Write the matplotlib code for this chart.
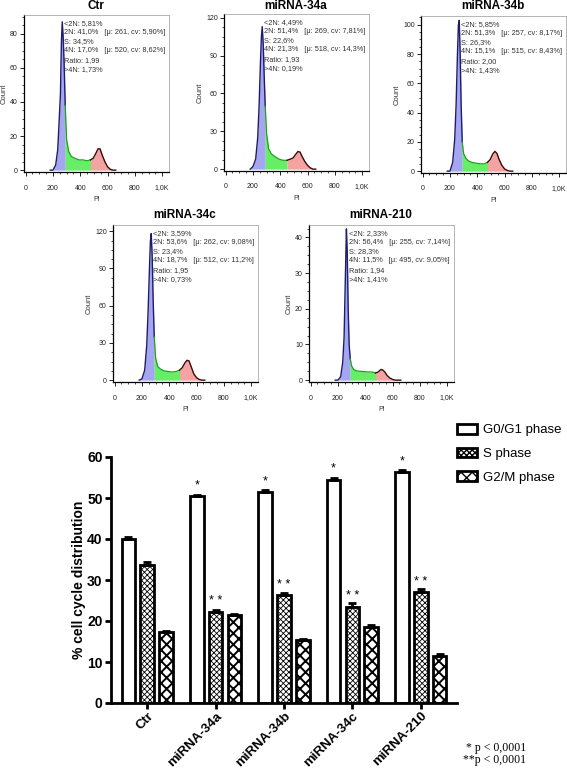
import numpy as np
import matplotlib.pyplot as plt
import matplotlib.transforms as mtransforms

plt.rcParams['font.family'] = ['Liberation Sans', 'DejaVu Sans']

# --- PI histograms (counts)
pi = [180, 200, 220, 235, 245, 255, 262, 268, 275, 282, 290, 300, 315, 335, 360, 390,
      420, 450, 475, 495, 515, 530, 545, 560, 580, 600, 620, 640, 660]
count_ctr = [0, 0, 3, 12, 28, 45, 75, 87, 78, 62, 38, 18, 11, 8, 7, 6,
             6, 5.5, 6, 7, 10, 12.5, 12.5, 9, 5, 2, 0.5, 0, 0]
count_34a = [0, 2, 8, 25, 50, 85, 105, 113, 100, 75, 50, 28, 16, 12, 10, 8,
             7, 7, 8, 9, 12, 14, 13.5, 10, 6, 3, 1, 0, 0]
count_34b = [0, 0, 6, 22, 45, 80, 100, 103, 80, 45, 20, 12, 9, 7, 6, 5.5,
             5, 5, 6, 8, 12, 13.5, 12, 8, 4, 1.5, 0.5, 0, 0]
count_34c = [0, 1, 8, 28, 55, 90, 112, 118, 100, 65, 35, 18, 11, 9, 7.5, 7,
             6.5, 7, 8, 10, 14, 16, 15.5, 11, 5, 2, 0.5, 0, 0]
count_210 = [0, 0, 1, 5, 12, 30, 42.4, 36, 20, 10, 6, 4, 3, 2.6, 2.5, 2.4,
             2.3, 2.3, 2.0, 2.3, 3.0, 2.8, 2.2, 1.3, 0.6, 0.2, 0, 0, 0]
hist_counts = [count_ctr, count_34a, count_34b, count_34c, count_210]

samples = ['Ctr', 'miRNA-34a', 'miRNA-34b', 'miRNA-34c', 'miRNA-210']
g1_end = [290, 290, 290, 290, 290]
g2_start = [475, 450, 475, 475, 475]
y_top = [91, 123, 106, 125, 43.5]
y_step = [20, 30, 20, 30, 10]
stats = [
    "<2N: 5,81%\n2N: 41,0%   [μ: 261, cv: 5,90%]\nS: 34,5%\n4N: 17,0%   [μ: 520, cv: 8,62%]\nRatio: 1,99\n>4N: 1,73%",
    "<2N: 4,49%\n2N: 51,4%   [μ: 269, cv: 7,81%]\nS: 22,6%\n4N: 21,3%   [μ: 518, cv: 14,3%]\nRatio: 1,93\n>4N: 0,19%",
    "<2N: 5,85%\n2N: 51,3%   [μ: 257, cv: 8,17%]\nS: 26,3%\n4N: 15,1%   [μ: 515, cv: 8,43%]\nRatio: 2,00\n>4N: 1,43%",
    "<2N: 3,59%\n2N: 53,6%   [μ: 262, cv: 9,08%]\nS: 23,4%\n4N: 18,7%   [μ: 512, cv: 11,2%]\nRatio: 1,95\n>4N: 0,73%",
    "<2N: 2,33%\n2N: 56,4%   [μ: 255, cv: 7,14%]\nS: 28,3%\n4N: 11,5%   [μ: 495, cv: 9,05%]\nRatio: 1,94\n>4N: 1,41%",
]

# --- bar chart
groups = ['Ctr', 'miRNA-34a', 'miRNA-34b', 'miRNA-34c', 'miRNA-210']
g0g1 = [40.1, 50.4, 51.5, 54.5, 56.4]
s_phase = [33.6, 22.3, 26.3, 23.5, 27.0]
g2m = [17.2, 21.4, 15.4, 18.6, 11.4]
g0g1_err = [0.5, 0.4, 0.4, 0.3, 0.5]
s_err = [0.7, 0.5, 0.5, 0.8, 0.8]
g2m_err = [0.3, 0.3, 0.3, 0.4, 0.5]

fig = plt.figure(figsize=(5.67, 7.7), dpi=100)

# pixel boxes (left, top) of the five histogram panels and title centres
boxes = [(24, 15), (224, 14), (421, 16), (113, 225), (309, 225)]
title_xy = [(96, 6), (296, 6), (493, 6), (185, 215), (381, 215)]
W, H = 145, 157

for i, name in enumerate(samples):
    lx, ty = boxes[i]
    ax = fig.add_axes([lx / 567, 1 - (ty + H) / 770, W / 567, H / 770])
    x = np.array(pi)
    y = np.array(hist_counts[i])
    m1 = x <= g1_end[i]
    m2 = (x >= g1_end[i]) & (x <= g2_start[i])
    m3 = x >= g2_start[i]
    ax.fill_between(x, 0, y, where=m1, color='#a6a6f0', lw=0)
    ax.fill_between(x, 0, y, where=m2, color='#66ee66', lw=0)
    ax.fill_between(x, 0, y, where=m3, color='#f4a3a3', lw=0)
    ax.plot(x[m1], y[m1], color='#1c1c6e', lw=1.0)
    ax.plot(x[m2], y[m2], color='#1fa01f', lw=0.9)
    ax.plot(x[m3], y[m3], color='#3a0a0a', lw=1.0)

    ax.set_xlim(-12, 1050)
    ax.set_ylim(-0.012 * y_top[i], y_top[i])
    ax.set_xticks([0, 200, 400, 600, 800, 1000])
    ax.set_xticklabels(['0', '200', '400', '600', '800', '1,0K'])
    ax.set_xticks(np.arange(0, 1050, 50), minor=True)
    ax.set_yticks(np.arange(0, y_top[i], y_step[i]))
    ax.set_yticks(np.arange(0, y_top[i], y_step[i] / 4), minor=True)
    ax.tick_params(which='major', direction='out', length=3, width=0.7,
                   labelsize=5, colors='#222222', pad=1.5)
    ax.tick_params(which='minor', direction='out', length=1.5, width=0.5)
    ax.tick_params(axis='x', pad=6)
    for side in ['left', 'bottom']:
        ax.spines[side].set_linewidth(0.9)
    for side in ['top', 'right']:
        ax.spines[side].set_linewidth(0.5)
        ax.spines[side].set_color('#999999')
    ax.set_xlabel('PI', fontsize=5, labelpad=3, color='#333333')
    ax.set_ylabel('Count', fontsize=5.5, labelpad=1.5, color='#333333')
    fig.text(title_xy[i][0] / 567, 1 - title_xy[i][1] / 770, name, fontsize=8.5,
             fontweight='bold', ha='center', va='center')
    trans = mtransforms.blended_transform_factory(ax.transData, ax.transAxes)
    ax.text(283, 0.97, stats[i], transform=trans, fontsize=5.3, va='top',
            ha='left', linespacing=1.45, color='#333333')

# --- bar chart of phase distribution
ax = fig.add_axes([111 / 567, 67 / 770, 346 / 567, 246 / 770])
xc = np.arange(len(groups))
off, bw = 0.275, 0.2
zero = np.zeros(len(groups))
ekw = dict(ecolor='black', elinewidth=2, capsize=3, capthick=2)
b1 = ax.bar(xc - off, g0g1, bw, facecolor='white', edgecolor='black', lw=2,
            yerr=[zero, g0g1_err], error_kw=ekw, label='G0/G1 phase')
with plt.rc_context({'hatch.linewidth': 0.6}):
    b2 = ax.bar(xc, s_phase, bw, facecolor='white', edgecolor='black', lw=2,
                hatch='xxxxxx', yerr=[zero, s_err], error_kw=ekw, label='S phase')
with plt.rc_context({'hatch.linewidth': 1.4}):
    b3 = ax.bar(xc + off, g2m, bw, facecolor='white', edgecolor='black', lw=2,
                hatch='xxx', yerr=[zero, g2m_err], error_kw=ekw, label='G2/M phase')

for k in range(1, len(groups)):
    ax.text(xc[k] - off, g0g1[k] + 2.6, '*', ha='center', va='center', fontsize=9)
    ax.text(xc[k], s_phase[k] + 2.6, '* *', ha='center', va='center', fontsize=9)

ax.set_xlim(-0.53, 4.53)
ax.set_ylim(0, 60)
ax.set_yticks([0, 10, 20, 30, 40, 50, 60])
ax.set_xticks(xc)
ax.set_xticklabels(groups, rotation=45, ha='right', rotation_mode='anchor',
                   fontsize=9.5, fontweight='bold')
for lab in ax.get_yticklabels():
    lab.set_fontweight('bold')
ax.tick_params(axis='y', labelsize=10, width=2, length=4, pad=2)
ax.tick_params(axis='x', width=2, length=4, pad=1)
ax.spines['top'].set_visible(False)
ax.spines['right'].set_visible(False)
ax.spines['left'].set_linewidth(2)
ax.spines['bottom'].set_linewidth(2)
ax.set_ylabel('% cell cycle distribution', fontsize=10, fontweight='bold', labelpad=1)

fig.legend(handles=[b1, b2, b3], loc='upper left', bbox_to_anchor=(457 / 567, 1 - 424 / 770),
           frameon=False, fontsize=9.5, handlelength=1.5, handleheight=0.75,
           handletextpad=0.5, labelspacing=0.85, borderpad=0, borderaxespad=0)

fig.text(466 / 567, 1 - 748 / 770, '* p < 0,0001', fontsize=8.5, va='center',
         family='Liberation Serif')
fig.text(463 / 567, 1 - 760 / 770, '**p < 0,0001', fontsize=8.5, va='center',
         family='Liberation Serif')

fig.savefig('out.png', dpi=100)
